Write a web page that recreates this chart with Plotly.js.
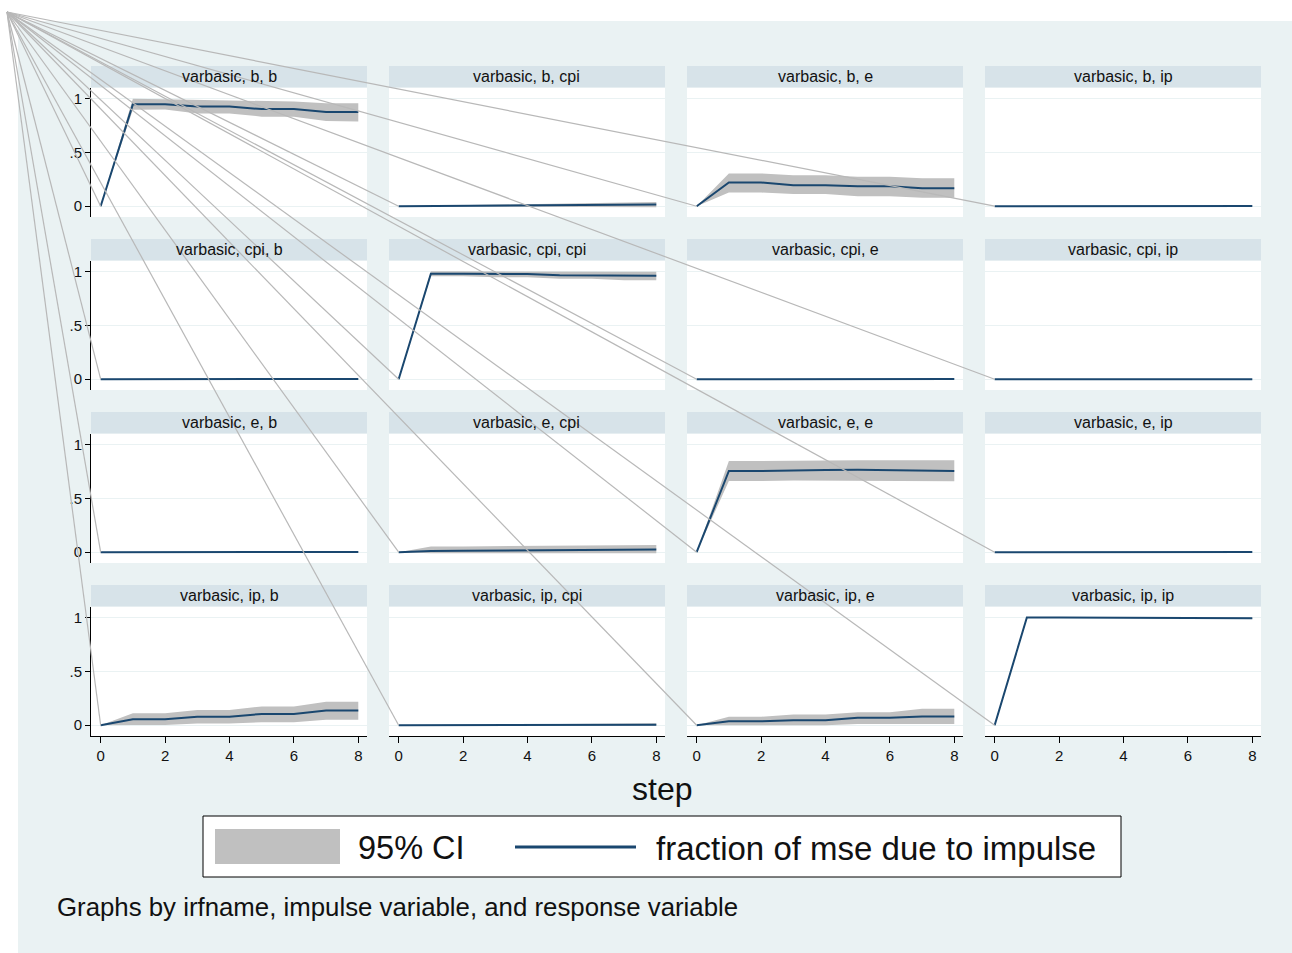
<!DOCTYPE html>
<html>
<head>
<meta charset="utf-8">
<script src="https://cdn.plot.ly/plotly-3.0.1.min.js"></script>
<style>
  html, body { margin: 0; padding: 0; background: #ffffff; }
  #chart { width: 1292px; height: 953px; }
</style>
</head>
<body>
<div id="chart"></div>
<script>
// Forecast-error variance decomposition, varbasic model, steps 0..8
const steps = [0, 1, 2, 3, 4, 5, 6, 7, 8];
const impulses = ['b', 'cpi', 'e', 'ip'];
const responses = ['b', 'cpi', 'e', 'ip'];
const xTicks = [0, 2, 4, 6, 8];
const yTicks = [0, 0.5, 1];
const yTickText = ['0', '.5', '1'];

// impulse b
const fevd_b_b = [0, 0.944, 0.944, 0.923, 0.923, 0.900, 0.900, 0.873, 0.873];
const lo_b_b   = [0, 0.893, 0.895, 0.860, 0.860, 0.830, 0.830, 0.790, 0.785];
const hi_b_b   = [0, 0.995, 0.990, 0.985, 0.980, 0.970, 0.970, 0.955, 0.955];
const fevd_b_cpi = [0, 0.001, 0.002, 0.004, 0.006, 0.009, 0.011, 0.014, 0.015];
const lo_b_cpi   = [0, -0.003, -0.004, -0.005, -0.006, -0.006, -0.008, -0.008, -0.010];
const hi_b_cpi   = [0, 0.005, 0.008, 0.013, 0.018, 0.024, 0.030, 0.036, 0.040];
const fevd_b_e = [0, 0.220, 0.220, 0.195, 0.195, 0.185, 0.185, 0.167, 0.167];
const lo_b_e   = [0, 0.127, 0.127, 0.112, 0.112, 0.093, 0.093, 0.078, 0.078];
const hi_b_e   = [0, 0.304, 0.304, 0.288, 0.288, 0.273, 0.273, 0.260, 0.260];
const fevd_b_ip = [0, 0.0005, 0.0008, 0.001, 0.0012, 0.0015, 0.0015, 0.0012, 0.001];
const lo_b_ip   = [0, -0.002, -0.002, -0.003, -0.003, -0.003, -0.003, -0.004, -0.003];
const hi_b_ip   = [0, 0.003, 0.004, 0.005, 0.005, 0.006, 0.006, 0.006, 0.005];

// impulse cpi
const fevd_cpi_b = [0, 0.0001, 0.0002, 0.0003, 0.0005, 0.0008, 0.001, 0.0013, 0.0015];
const lo_cpi_b   = [0, -0.001, -0.001, -0.002, -0.002, -0.002, -0.002, -0.002, -0.002];
const hi_cpi_b   = [0, 0.001, 0.002, 0.002, 0.003, 0.003, 0.004, 0.004, 0.005];
const fevd_cpi_cpi = [0, 0.977, 0.977, 0.975, 0.975, 0.963, 0.963, 0.958, 0.958];
const lo_cpi_cpi   = [0, 0.954, 0.954, 0.945, 0.945, 0.930, 0.930, 0.918, 0.916];
const hi_cpi_cpi   = [0, 1.000, 1.000, 0.998, 0.998, 0.995, 0.995, 0.995, 0.995];
const fevd_cpi_e = [0, 0.0003, 0.0005, 0.0008, 0.001, 0.0012, 0.0014, 0.0015, 0.0016];
const lo_cpi_e   = [0, -0.001, -0.001, -0.002, -0.002, -0.002, -0.002, -0.002, -0.002];
const hi_cpi_e   = [0, 0.002, 0.002, 0.003, 0.004, 0.004, 0.005, 0.005, 0.005];
const fevd_cpi_ip = [0, 0.0002, 0.0003, 0.0004, 0.0005, 0.0005, 0.0006, 0.0006, 0.0006];
const lo_cpi_ip   = [0, -0.001, -0.001, -0.001, -0.001, -0.001, -0.001, -0.001, -0.001];
const hi_cpi_ip   = [0, 0.001, 0.002, 0.002, 0.002, 0.002, 0.002, 0.002, 0.002];

// impulse e
const fevd_e_b = [0, 0.0001, 0.0003, 0.0005, 0.0008, 0.0012, 0.0016, 0.002, 0.0022];
const lo_e_b   = [0, -0.001, -0.001, -0.002, -0.002, -0.002, -0.002, -0.002, -0.002];
const hi_e_b   = [0, 0.001, 0.002, 0.003, 0.004, 0.005, 0.006, 0.006, 0.007];
const fevd_e_cpi = [0, 0.012, 0.013, 0.015, 0.016, 0.020, 0.021, 0.024, 0.025];
const lo_e_cpi   = [0, -0.010, -0.010, -0.010, -0.010, -0.010, -0.010, -0.010, -0.010];
const hi_e_cpi   = [0, 0.053, 0.054, 0.056, 0.057, 0.062, 0.063, 0.065, 0.066];
const fevd_e_e = [0, 0.753, 0.753, 0.760, 0.762, 0.763, 0.762, 0.755, 0.753];
const lo_e_e   = [0, 0.660, 0.660, 0.665, 0.666, 0.666, 0.664, 0.658, 0.657];
const hi_e_e   = [0, 0.846, 0.846, 0.850, 0.852, 0.853, 0.853, 0.853, 0.853];
const fevd_e_ip = [0, 0.0002, 0.0003, 0.0004, 0.0005, 0.0006, 0.0007, 0.0008, 0.0008];
const lo_e_ip   = [0, -0.001, -0.001, -0.001, -0.001, -0.001, -0.001, -0.001, -0.001];
const hi_e_ip   = [0, 0.001, 0.002, 0.002, 0.002, 0.002, 0.003, 0.003, 0.003];

// impulse ip
const fevd_ip_b = [0, 0.056, 0.056, 0.078, 0.078, 0.105, 0.105, 0.136, 0.136];
const lo_ip_b   = [0, 0.003, 0.003, 0.015, 0.015, 0.028, 0.028, 0.050, 0.050];
const hi_ip_b   = [0, 0.110, 0.110, 0.140, 0.140, 0.174, 0.174, 0.217, 0.217];
const fevd_ip_cpi = [0, 0.001, 0.001, 0.002, 0.002, 0.004, 0.004, 0.005, 0.005];
const lo_ip_cpi   = [0, -0.002, -0.003, -0.003, -0.004, -0.004, -0.005, -0.005, -0.006];
const hi_ip_cpi   = [0, 0.004, 0.005, 0.007, 0.008, 0.012, 0.013, 0.016, 0.017];
const fevd_ip_e = [0, 0.037, 0.037, 0.046, 0.046, 0.068, 0.068, 0.080, 0.080];
const lo_ip_e   = [0, -0.003, -0.003, 0.000, 0.000, 0.012, 0.012, 0.012, 0.012];
const hi_ip_e   = [0, 0.078, 0.078, 0.100, 0.100, 0.120, 0.120, 0.152, 0.152];
const fevd_ip_ip = [0, 0.998, 0.998, 0.997, 0.997, 0.996, 0.996, 0.992, 0.992];
const lo_ip_ip   = [0, 0.996, 0.995, 0.994, 0.993, 0.992, 0.991, 0.985, 0.985];
const hi_ip_ip   = [0, 1.000, 1.000, 1.000, 1.000, 1.000, 1.000, 0.999, 0.999];

// Panel table: [impulse, response, fevd, lower, upper]
const panels = [
  ['b', 'b', fevd_b_b, lo_b_b, hi_b_b],
  ['b', 'cpi', fevd_b_cpi, lo_b_cpi, hi_b_cpi],
  ['b', 'e', fevd_b_e, lo_b_e, hi_b_e],
  ['b', 'ip', fevd_b_ip, lo_b_ip, hi_b_ip],
  ['cpi', 'b', fevd_cpi_b, lo_cpi_b, hi_cpi_b],
  ['cpi', 'cpi', fevd_cpi_cpi, lo_cpi_cpi, hi_cpi_cpi],
  ['cpi', 'e', fevd_cpi_e, lo_cpi_e, hi_cpi_e],
  ['cpi', 'ip', fevd_cpi_ip, lo_cpi_ip, hi_cpi_ip],
  ['e', 'b', fevd_e_b, lo_e_b, hi_e_b],
  ['e', 'cpi', fevd_e_cpi, lo_e_cpi, hi_e_cpi],
  ['e', 'e', fevd_e_e, lo_e_e, hi_e_e],
  ['e', 'ip', fevd_e_ip, lo_e_ip, hi_e_ip],
  ['ip', 'b', fevd_ip_b, lo_ip_b, hi_ip_b],
  ['ip', 'cpi', fevd_ip_cpi, lo_ip_cpi, hi_ip_cpi],
  ['ip', 'e', fevd_ip_e, lo_ip_e, hi_ip_e],
  ['ip', 'ip', fevd_ip_ip, lo_ip_ip, hi_ip_ip]
];

const W = 1292, H = 953;
const FONT = 'Liberation Sans, Arial, Helvetica, sans-serif';
const NAVY = '#1a476f';
const CI_GRAY = '#c0c0c0';
const BG = '#eaf2f3';
const STRIP = '#d7e3e9';
const GRID = '#eaf2f3';

// grid geometry in pixels
const colLeft = [91, 389, 687, 985];
const colW = 276;
const rowTop = [87.5, 260.5, 433.5, 606.5];
const rowH = 129.5;
const stripH = 21.5;
const xRange = [-0.3, 8.27];
const yRange = [-0.1, 1.1];

const px = v => v / W;
const py = v => 1 - v / H;

const traces = [];
const layout = {
  width: W, height: H,
  margin: { l: 0, r: 0, t: 0, b: 0 },
  paper_bgcolor: BG,
  plot_bgcolor: '#ffffff',
  showlegend: false,
  font: { family: FONT, color: '#111111' },
  shapes: [],
  annotations: []
};

// white border above and left of the graph region
layout.shapes.push({
  type: 'rect', xref: 'paper', yref: 'paper', layer: 'below',
  x0: 0, x1: 1, y0: py(21), y1: 1,
  fillcolor: '#ffffff', line: { width: 0 }
});
layout.shapes.push({
  type: 'rect', xref: 'paper', yref: 'paper', layer: 'below',
  x0: 0, x1: px(18), y0: 0, y1: 1,
  fillcolor: '#ffffff', line: { width: 0 }
});

const axisFrom = {};

panels.forEach((p, k) => {
  const [imp, resp, fevd, lo, hi] = p;
  const r = Math.floor(k / 4), c = k % 4;
  const n = k + 1;
  const xa = n === 1 ? 'x' : 'x' + n;
  const ya = n === 1 ? 'y' : 'y' + n;
  const bottomRow = r === 3, firstCol = c === 0;

  const xDom = [px(colLeft[c]), px(colLeft[c] + colW)];
  const yDom = [py(rowTop[r] + rowH), py(rowTop[r])];

  layout['xaxis' + (n === 1 ? '' : n)] = {
    domain: xDom, range: xRange, anchor: ya,
    showgrid: false, zeroline: false,
    showline: bottomRow, linecolor: '#000000', linewidth: 1,
    ticks: bottomRow ? 'outside' : '', ticklen: 6, tickwidth: 1, tickcolor: '#000000',
    tickmode: 'array', tickvals: xTicks,
    showticklabels: bottomRow,
    tickfont: { family: FONT, size: 15, color: '#111111' },
    fixedrange: true
  };
  layout['yaxis' + (n === 1 ? '' : n)] = {
    domain: yDom, range: yRange, anchor: xa,
    showgrid: true, gridcolor: GRID, gridwidth: 1.2, zeroline: false,
    showline: firstCol, linecolor: '#000000', linewidth: 1,
    ticks: firstCol ? 'outside' : '', ticklen: 5, tickwidth: 1, tickcolor: '#000000',
    tickmode: 'array', tickvals: yTicks, ticktext: yTickText,
    showticklabels: firstCol,
    tickfont: { family: FONT, size: 15, color: '#111111' },
    fixedrange: true
  };
  axisFrom[n] = { xDom, yDom, fevd };

  // confidence band
  traces.push({
    type: 'scatter', mode: 'lines', xaxis: xa, yaxis: ya,
    x: steps.concat(steps.slice().reverse()),
    y: hi.concat(lo.slice().reverse()),
    fill: 'toself', fillcolor: CI_GRAY,
    line: { width: 0, color: CI_GRAY },
    hoverinfo: 'skip', showlegend: false
  });
  // variance share
  traces.push({
    type: 'scatter', mode: 'lines', xaxis: xa, yaxis: ya,
    x: steps, y: fevd,
    line: { color: NAVY, width: 2 },
    showlegend: false
  });

  // panel header strip
  layout.shapes.push({
    type: 'rect', xref: 'paper', yref: 'paper', layer: 'below',
    x0: xDom[0], x1: xDom[1], y0: py(rowTop[r]), y1: py(rowTop[r] - stripH),
    fillcolor: STRIP, line: { width: 0 }
  });
  layout.annotations.push({
    xref: 'paper', yref: 'paper',
    x: (xDom[0] + xDom[1]) / 2, y: py(rowTop[r] - stripH / 2),
    xanchor: 'center', yanchor: 'middle', showarrow: false,
    text: 'varbasic, ' + imp + ', ' + resp,
    font: { family: FONT, size: 16, color: '#111111' }
  });
});

// connector strokes from the graph corner to each panel's first point
const corner = [px(7), py(12)];
Object.keys(axisFrom).forEach(n => {
  const a = axisFrom[n];
  const xp = a.xDom[0] + (steps[0] - xRange[0]) / (xRange[1] - xRange[0]) * (a.xDom[1] - a.xDom[0]);
  const yp = a.yDom[0] + (a.fevd[0] - yRange[0]) / (yRange[1] - yRange[0]) * (a.yDom[1] - a.yDom[0]);
  layout.shapes.push({
    type: 'line', xref: 'paper', yref: 'paper', layer: 'above',
    x0: corner[0], y0: corner[1], x1: xp, y1: yp,
    line: { color: '#b8b8b8', width: 1.2 }
  });
});

// shared x title
layout.annotations.push({
  xref: 'paper', yref: 'paper', x: px(662), y: py(789),
  xanchor: 'center', yanchor: 'middle', showarrow: false,
  text: 'step', font: { family: FONT, size: 32, color: '#111111' }
});

// key box
layout.shapes.push({
  type: 'rect', xref: 'paper', yref: 'paper', layer: 'below',
  x0: px(203), x1: px(1121), y0: py(877), y1: py(816),
  fillcolor: '#ffffff', line: { color: '#000000', width: 1 }
});
layout.shapes.push({
  type: 'rect', xref: 'paper', yref: 'paper', layer: 'below',
  x0: px(215), x1: px(340), y0: py(864), y1: py(829),
  fillcolor: CI_GRAY, line: { width: 0 }
});
layout.shapes.push({
  type: 'line', xref: 'paper', yref: 'paper', layer: 'below',
  x0: px(515), x1: px(636), y0: py(847), y1: py(847),
  line: { color: NAVY, width: 3 }
});
layout.annotations.push({
  xref: 'paper', yref: 'paper', x: px(356), y: py(848),
  xanchor: 'left', yanchor: 'middle', showarrow: false,
  text: '95% CI', font: { family: FONT, size: 32.5, color: '#111111' }
});
layout.annotations.push({
  xref: 'paper', yref: 'paper', x: px(654), y: py(848),
  xanchor: 'left', yanchor: 'middle', showarrow: false,
  text: 'fraction of mse due to impulse', font: { family: FONT, size: 33, color: '#111111' }
});

// note
layout.annotations.push({
  xref: 'paper', yref: 'paper', x: px(55), y: py(907),
  xanchor: 'left', yanchor: 'middle', showarrow: false,
  text: 'Graphs by irfname, impulse variable, and response variable',
  font: { family: FONT, size: 25.8, color: '#111111' }
});

Plotly.newPlot('chart', traces, layout, { displayModeBar: false, staticPlot: true });
</script>
</body>
</html>
